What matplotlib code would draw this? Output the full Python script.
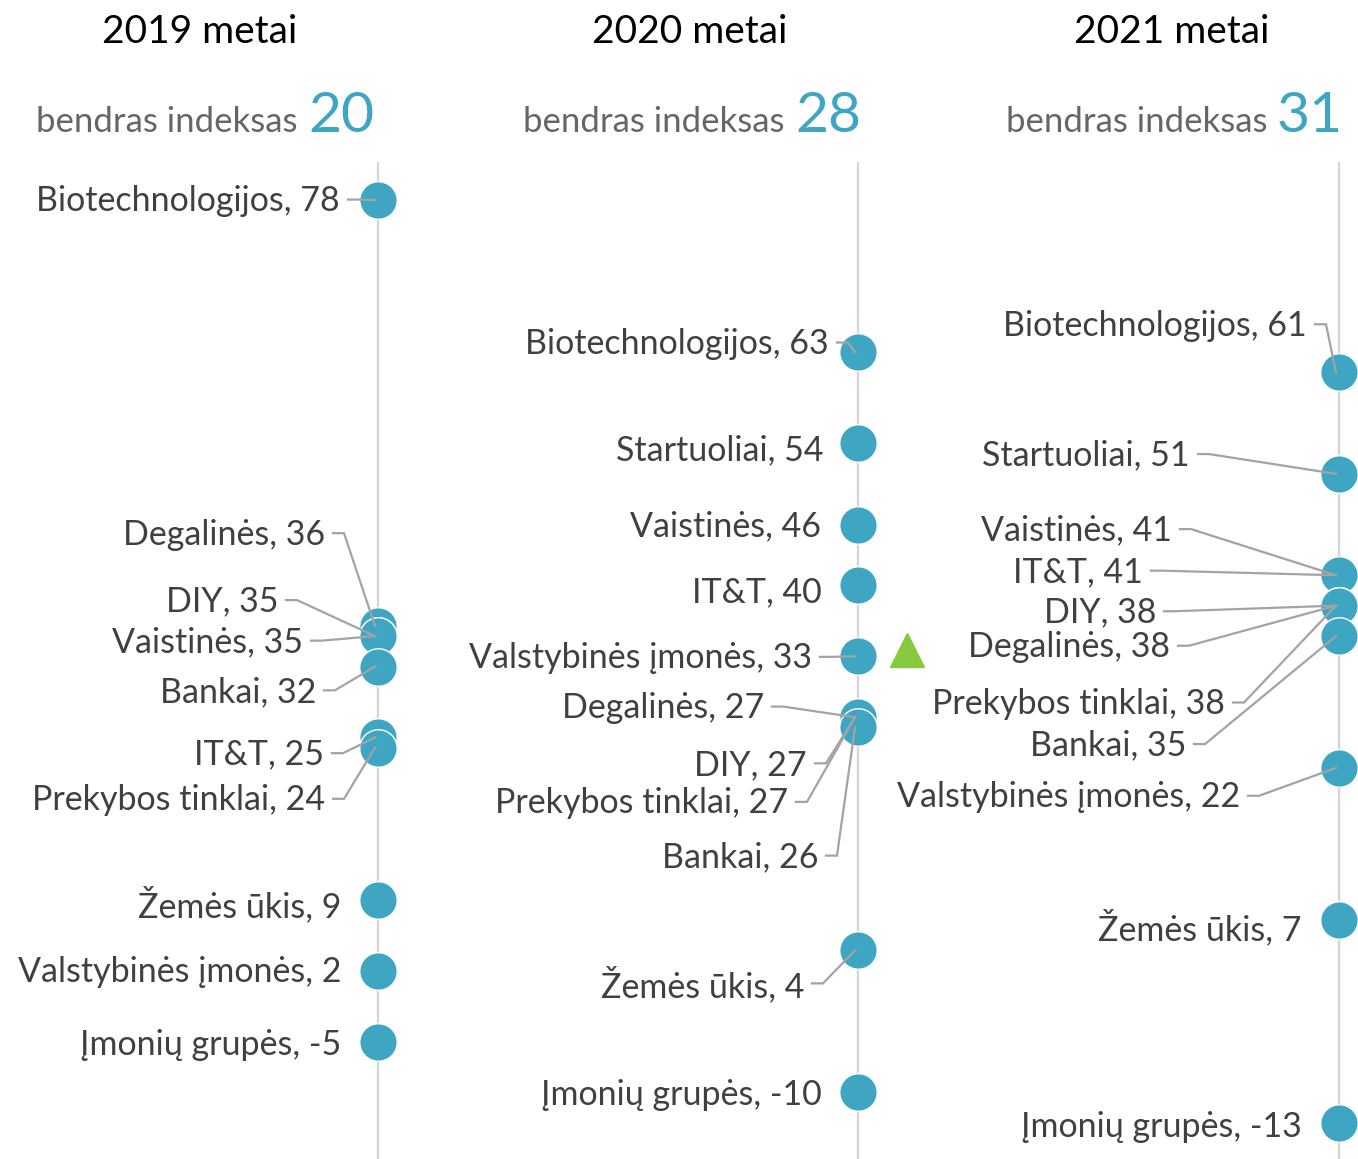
import matplotlib
matplotlib.use("Agg")
import matplotlib.pyplot as plt

plt.rcParams['font.family'] = ['Lato', 'DejaVu Sans']

years = ["2019 metai", "2020 metai", "2021 metai"]
overall = [20, 28, 31]

names_2019 = ["Biotechnologijos", "Degalinės", "DIY", "Vaistinės", "Bankai", "IT&T",
              "Prekybos tinklai", "Žemės ūkis", "Valstybinės įmonės", "Įmonių grupės"]
vals_2019 = [78, 36, 35, 35, 32, 25, 24, 9, 2, -5]

names_2020 = ["Biotechnologijos", "Startuoliai", "Vaistinės", "IT&T", "Valstybinės įmonės",
              "Degalinės", "DIY", "Prekybos tinklai", "Bankai", "Žemės ūkis", "Įmonių grupės"]
vals_2020 = [63, 54, 46, 40, 33, 27, 27, 27, 26, 4, -10]

names_2021 = ["Biotechnologijos", "Startuoliai", "Vaistinės", "IT&T", "DIY", "Degalinės",
              "Prekybos tinklai", "Bankai", "Valstybinės įmonės", "Žemės ūkis", "Įmonių grupės"]
vals_2021 = [61, 51, 41, 41, 38, 38, 38, 35, 22, 7, -13]

# label layout: vertical position (value units), gap from axis line (px), leader on/off
lab_y_2019 = [77.9, 45.0, 38.4, 34.4, 29.5, 23.3, 18.8, 8.5, 1.9, -5.3]
lab_dx_2019 = [38, 53, 100, 75, 62, 54, 53, 37, 37, 37]
lead_2019 = [1, 1, 1, 1, 1, 1, 1, 0, 0, 0]

lab_y_2020 = [63.8, 53.3, 45.8, 39.3, 32.8, 27.9, 22.3, 18.5, 13.2, 0.6, -10.3]
lab_dx_2020 = [29, 35, 37, 36, 46, 94, 51, 70, 40, 54, 36]
lead_2020 = [1, 0, 0, 0, 1, 1, 1, 1, 1, 1, 0]

lab_y_2021 = [65.6, 52.8, 45.4, 41.3, 37.3, 33.9, 28.3, 24.2, 19.1, 6.2, -13.4]
lab_dx_2021 = [32, 149, 167, 196, 183, 169, 114, 153, 99, 37, 37]
lead_2021 = [1, 1, 1, 1, 1, 1, 1, 1, 1, 0, 0]

columns = [
    (names_2019, vals_2019, lab_y_2019, lab_dx_2019, lead_2019),
    (names_2020, vals_2020, lab_y_2020, lab_dx_2020, lead_2020),
    (names_2021, vals_2021, lab_y_2021, lab_dx_2021, lead_2021),
]

W, H = 1358, 1159
line_x = [378, 858, 1339]
head_x = [200, 690, 1172]
num_x = [308, 795, 1277]

TEAL = '#3ea5c3'
TXT = '#404040'
GREY = '#a3a3a3'

fig = plt.figure(figsize=(W / 100, H / 100), dpi=100)
ax = fig.add_axes([0, 0, 1, 1])
ax.set_xlim(0, W)
ax.set_ylim(-16.57, 97.73)
ax.axis('off')

for i, (names, vals, ly, ldx, lead) in enumerate(columns):
    x0 = line_x[i]
    ax.plot([x0, x0], [-17, 81.7], color='#d4d4d4', lw=1.6, zorder=1)
    ax.plot([x0] * len(vals), vals, 'o', ms=27, color=TEAL, mec='white', mew=1.0,
            zorder=2, linestyle='none')
    for name, v, y, dx, has_lead in zip(names, vals, ly, ldx, lead):
        xr = x0 - dx
        ax.text(xr, y, f"{name}, {v}", ha='right', va='center', fontsize=24.5, color=TXT,
                zorder=4)
        if has_lead:
            ax.plot([xr + 8, xr + 19, x0 - 3], [y + 0.15, y + 0.15, v], color=GREY,
                    lw=1.6, zorder=3, solid_joinstyle='miter')

    # column headers
    fig.text(head_x[i] / W, 1 - 32 / H, years[i], ha='center', va='center',
             fontsize=28, color='black')
    fig.text((num_x[i] - 10) / W, 1 - 132 / H, "bendras indeksas", ha='right',
             va='baseline', fontsize=25, color='#666666')
    fig.text(num_x[i] / W, 1 - 132 / H, str(overall[i]), ha='left', va='baseline',
             fontsize=41, color=TEAL)

# growth marker beside the state enterprises in 2020
ax.plot([907], [vals_2020[4] + 0.6], '^', ms=24, color='#86c940', zorder=2)

fig.savefig("out.png", dpi=100, facecolor='white')
